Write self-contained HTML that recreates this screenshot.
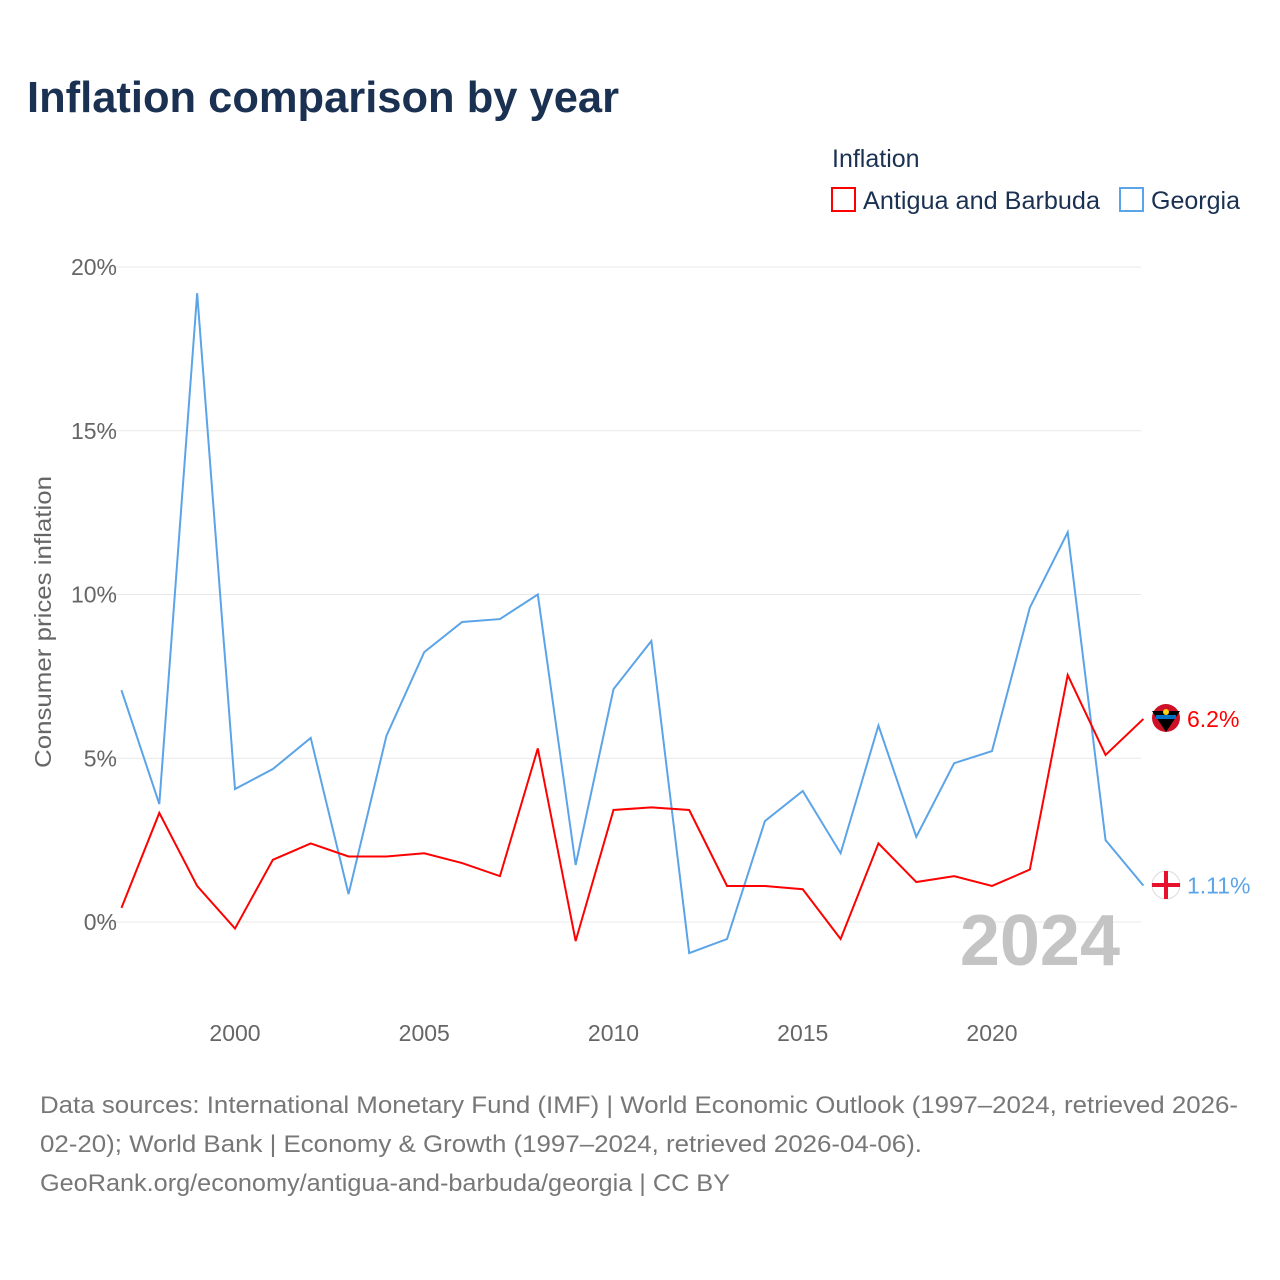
<!DOCTYPE html>
<html><head><meta charset="utf-8"><style>
body{margin:0;background:#fff;width:1280px;height:1280px;overflow:hidden;font-family:"Liberation Sans",sans-serif}
</style></head><body>
<svg width="1280" height="1280" style="position:absolute;left:0;top:0">
<text x="27" y="112" font-size="44" font-weight="bold" fill="#1a3152" textLength="592" lengthAdjust="spacingAndGlyphs">Inflation comparison by year</text>
<text x="832" y="167" font-size="25" fill="#1a3152">Inflation</text>
<g><rect x="832" y="188" width="23" height="23" fill="none" stroke="#ff0000" stroke-width="2"/><text x="863" y="209" font-size="25" fill="#1a3152" textLength="237" lengthAdjust="spacingAndGlyphs">Antigua and Barbuda</text></g>
<g><rect x="1120" y="188" width="23" height="23" fill="none" stroke="#5ba4e8" stroke-width="2"/><text x="1151" y="209" font-size="25" fill="#1a3152" textLength="89" lengthAdjust="spacingAndGlyphs">Georgia</text></g>
<text transform="translate(51,622) rotate(-90)" text-anchor="middle" font-size="23" fill="#666" textLength="292" lengthAdjust="spacingAndGlyphs">Consumer prices inflation</text>
<g id="grid"></g><g id="xt"></g>
<text x="1120" y="965" text-anchor="end" font-size="72" font-weight="bold" fill="#c4c4c4">2024</text>
<g id="lines"></g>
<g><circle cx="1166" cy="718" r="14" fill="#ce1126"/><path d="M1152 711 L1180 711 L1166 732 Z" fill="#000"/><rect x="1156" y="715" width="20" height="4" fill="#0072c6"/><circle cx="1166" cy="712" r="3" fill="#fcd116"/></g>
<g><circle cx="1166" cy="885" r="14" fill="#fff" stroke="#ddd"/><rect x="1164" y="871" width="4" height="28" fill="#e8112d"/><rect x="1152" y="883" width="28" height="4" fill="#e8112d"/></g>
<text x="40" y="1113" font-size="24" fill="#777" textLength="1198" lengthAdjust="spacingAndGlyphs">Data sources: International Monetary Fund (IMF) | World Economic Outlook (1997–2024, retrieved 2026-</text>
<text x="40" y="1152" font-size="24" fill="#777" textLength="882" lengthAdjust="spacingAndGlyphs">02-20); World Bank | Economy &amp; Growth (1997–2024, retrieved 2026-04-06).</text>
<text x="40" y="1191" font-size="24" fill="#777" textLength="690" lengthAdjust="spacingAndGlyphs">GeoRank.org/economy/antigua-and-barbuda/georgia | CC BY</text>
</svg>
<script>
const years=[1997,1998,1999,2000,2001,2002,2003,2004,2005,2006,2007,2008,2009,2010,2011,2012,2013,2014,2015,2016,2017,2018,2019,2020,2021,2022,2023,2024];
const georgia=[7.08,3.6,19.2,4.06,4.67,5.62,0.85,5.68,8.24,9.16,9.25,10.0,1.74,7.11,8.58,-0.95,-0.52,3.08,4.0,2.1,6.0,2.6,4.85,5.22,9.6,11.9,2.5,1.11];
const antigua=[0.43,3.33,1.1,-0.2,1.9,2.4,2.0,2.0,2.1,1.8,1.4,5.3,-0.58,3.42,3.5,3.42,1.1,1.1,1.0,-0.52,2.4,1.22,1.4,1.1,1.6,7.54,5.1,6.2];
const yTicks=[0,5,10,15,20];
const xTicks=[2000,2005,2010,2015,2020];
const NS="http://www.w3.org/2000/svg";
const X=v=>235+(v-2000)*37.85, Y=v=>922-v*32.75;
function mk(t,a,p){const e=document.createElementNS(NS,t);for(const k in a)e.setAttribute(k,a[k]);p.appendChild(e);return e;}
const g=document.getElementById('grid');
yTicks.forEach(t=>{const l=mk('line',{x1:100,x2:1141,y1:Y(t),y2:Y(t),stroke:'#e8e8e8'},g);


const tx=mk('text',{x:117,y:Y(t)+8,'text-anchor':'end','font-size':23,fill:'#666'},g);tx.textContent=t+'%';

});
const xt=document.getElementById('xt');
xTicks.forEach(t=>{const tx=mk('text',{x:X(t),y:1041,'text-anchor':'middle','font-size':23,fill:'#666'},xt);tx.textContent=t;

});
const L=document.getElementById('lines');
function line(vals,col,name,lab){const p=mk('polyline',{points:vals.map((v,i)=>X(years[i])+','+Y(v)).join(' '),fill:'none',stroke:col,'stroke-width':2},L);


const last=vals[vals.length-1];
const t=mk('text',{x:1187,y:Y(last)+8,'font-size':23,fill:col},L);t.textContent=lab;

}
line(georgia,'#5ba4e8','georgia-line',georgia[georgia.length-1]+'%');
line(antigua,'#ff0000','antigua-line',antigua[antigua.length-1]+'%');
</script>
</body></html>
